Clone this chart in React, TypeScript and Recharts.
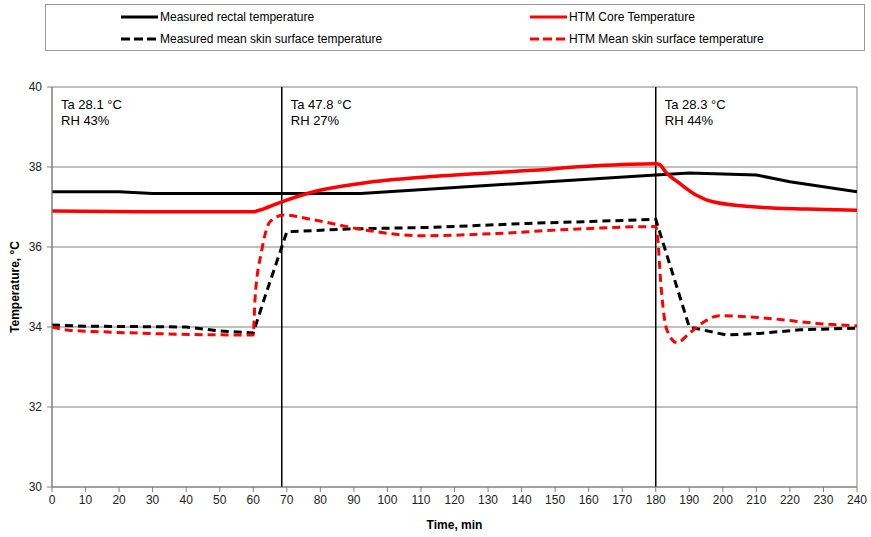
import React from "react";
import { LineChart, Line, XAxis, YAxis, CartesianGrid, ReferenceLine } from "recharts";

// Measured rectal temperature (black solid)
const RECTAL_T = [0, 20, 30, 92, 180, 190, 210, 220, 240];
const RECTAL_V = [37.38, 37.38, 37.34, 37.34, 37.8, 37.85, 37.8, 37.63, 37.38];

// HTM core temperature (red solid)
const CORE_T = [0, 30, 60, 61, 68.5, 78, 93, 113, 142, 162, 180, 181, 183, 187, 192, 197, 210, 225, 240];
const CORE_V = [36.9, 36.88, 36.88, 36.9, 37.13, 37.38, 37.6, 37.76, 37.91, 38.03, 38.08, 38.07, 37.87, 37.6, 37.3, 37.13, 37.0, 36.95, 36.92];

// Measured mean skin surface temperature (black dashed)
const SKIN_T = [0, 10, 40, 50, 60, 63.5, 68.5, 70, 88, 113, 142, 180, 190, 201, 211, 223, 240];
const SKIN_V = [34.05, 34.02, 34.0, 33.9, 33.85, 34.76, 36.0, 36.38, 36.45, 36.49, 36.59, 36.69, 34.0, 33.8, 33.84, 33.93, 33.97];

// HTM mean skin surface temperature (red dashed)
const HTM_SKIN_T = [0, 5, 15, 60, 60.5, 62.5, 65, 69, 78, 93, 110, 133, 152, 180, 180.6, 181.5, 183.3, 186.3, 190, 193, 199, 213, 228, 240];
const HTM_SKIN_V = [34.0, 33.92, 33.88, 33.8, 34.67, 35.9, 36.63, 36.8, 36.68, 36.43, 36.28, 36.34, 36.43, 36.51, 36.2, 35.1, 33.93, 33.61, 33.84, 34.05, 34.28, 34.22, 34.09, 34.03];

const X_TICKS = [0, 10, 20, 30, 40, 50, 60, 70, 80, 90, 100, 110, 120, 130, 140, 150, 160, 170, 180, 190, 200, 210, 220, 230, 240];
const Y_TICKS = [30, 32, 34, 36, 38, 40];

// climate phases
const ZONE_X = [0, 68.5, 180];
const ZONE_TA = ["28.1", "47.8", "28.3"];
const ZONE_RH = ["43%", "27%", "44%"];

const FONT = '"Liberation Sans", Arial, sans-serif';
const GRID = "#808080";

const toData = (t: number[], v: number[]) => t.map((x, i) => ({ t: x, v: v[i] }));

const zoneLabel = (i: number) => (props: any) => {
  const vb = props.viewBox || {};
  const x = vb.x + 9;
  const y = vb.y + 22;
  return (
    <text x={x} y={y} fontSize={13} fill="#000" fontFamily={FONT}>
      <tspan x={x}>Ta {ZONE_TA[i]} °C</tspan>
      <tspan x={x} dy={16}>RH {ZONE_RH[i]}</tspan>
    </text>
  );
};

const yLabel = (props: any) => {
  const vb = props.viewBox || {};
  const cx = vb.x + 15;
  const cy = vb.y + vb.height / 2;
  return (
    <text x={cx} y={cy} transform={`rotate(-90 ${cx} ${cy})`} textAnchor="middle" dominantBaseline="central"
      fontSize={12} fontWeight="bold" fontFamily={FONT} fill="#000">
      Temperature, °C
    </text>
  );
};

const xLabel = (props: any) => {
  const vb = props.viewBox || {};
  return (
    <text x={vb.x + vb.width / 2} y={vb.y + 42} textAnchor="middle" fontSize={12} fontWeight="bold" fontFamily={FONT} fill="#000">
      Time, min
    </text>
  );
};

const LEGEND = [
  { name: "Measured rectal temperature", color: "#000", dash: undefined, col: 0, row: 0 },
  { name: "HTM Core Temperature", color: "#f00", dash: undefined, col: 1, row: 0 },
  { name: "Measured mean skin surface temperature", color: "#000", dash: "9 4", col: 0, row: 1 },
  { name: "HTM Mean skin surface temperature", color: "#f00", dash: "9 4", col: 1, row: 1 },
];

function LegendBox() {
  return (
    <div style={{ position: "absolute", left: 45, top: 4, width: 820, height: 47, border: "1px solid #999", boxSizing: "border-box", fontFamily: FONT, fontSize: 12 }}>
      {LEGEND.map((it) => (
        <div key={it.name} style={{ position: "absolute", left: it.col ? 484 : 75, top: it.row ? 27 : 5, display: "flex", alignItems: "center", height: 14, whiteSpace: "nowrap" }}>
          <svg width={37} height={6} style={{ marginRight: 2 }}>
            <line x1={0} y1={3} x2={37} y2={3} stroke={it.color} strokeWidth={3} strokeDasharray={it.dash} />
          </svg>
          <span>{it.name}</span>
        </div>
      ))}
    </div>
  );
}

export default function App() {
  return (
    <div style={{ position: "absolute", left: 0, top: 0, width: 871, height: 537, background: "#fff", fontFamily: FONT }}>
      <LineChart width={871} height={537} margin={{ top: 87, right: 14, bottom: 0, left: 0 }}>
        <CartesianGrid horizontal vertical={false} stroke={GRID} strokeWidth={1} />
        <XAxis type="number" dataKey="t" domain={[0, 240]} ticks={X_TICKS} interval={0} allowDataOverflow
          height={50} stroke={GRID} tickSize={5} tickMargin={3}
          tick={{ fontSize: 12, fill: "#222", fontFamily: FONT }} label={{ content: xLabel }} />
        <YAxis type="number" domain={[30, 40]} ticks={Y_TICKS} width={52} stroke={GRID} tickSize={5} tickMargin={5}
          tick={{ fontSize: 12, fill: "#222", fontFamily: FONT }} label={{ content: yLabel }} />
        <ReferenceLine x={240} stroke={GRID} strokeWidth={1} />
        {ZONE_X.map((x, i) => (
          <ReferenceLine key={x} x={x} stroke={i === 0 ? GRID : "#000"} strokeWidth={i === 0 ? 1 : 1.5}
            label={{ content: zoneLabel(i) }} />
        ))}
        <Line data={toData(RECTAL_T, RECTAL_V)} dataKey="v" type="linear" stroke="#000" strokeWidth={3}
          dot={false} activeDot={false} isAnimationActive={false} />
        <Line data={toData(CORE_T, CORE_V)} dataKey="v" type="monotone" stroke="#f00" strokeWidth={3.5}
          dot={false} activeDot={false} isAnimationActive={false} />
        <Line data={toData(SKIN_T, SKIN_V)} dataKey="v" type="linear" stroke="#000" strokeWidth={3} strokeDasharray="8 5"
          dot={false} activeDot={false} isAnimationActive={false} />
        <Line data={toData(HTM_SKIN_T, HTM_SKIN_V)} dataKey="v" type="monotone" stroke="#f00" strokeWidth={3} strokeDasharray="8 5"
          dot={false} activeDot={false} isAnimationActive={false} />
      </LineChart>
      <LegendBox />
    </div>
  );
}
